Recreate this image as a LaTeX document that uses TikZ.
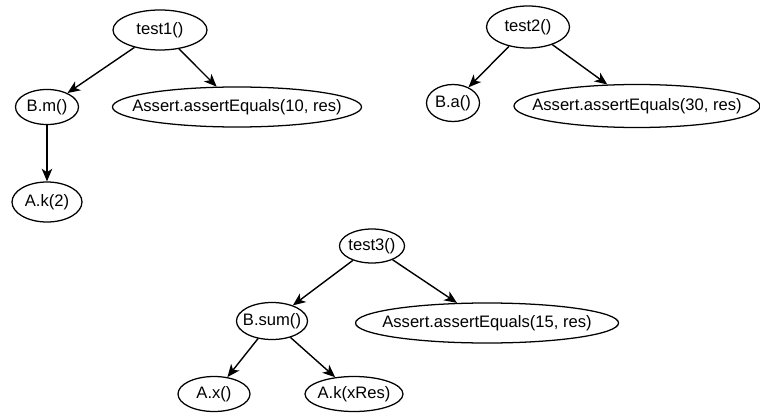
\documentclass[tikz,border=0pt]{standalone}
\usepackage{fontspec}
\setmainfont{Liberation Sans}
\usepackage{tikz}
\usetikzlibrary{arrows.meta,shapes.geometric}
\tikzset{
  call/.style={draw, ellipse, line width=0.9pt, inner xsep=-0.5cm, inner ysep=0pt,
    font=\fontsize{11.8}{14}\selectfont},
  link/.style={-{Stealth[length=9pt,width=7.5pt,inset=2.5pt]}, line width=1pt}
}

\begin{document}
\begin{tikzpicture}
      \useasboundingbox (0, 0) rectangle (19, 10.3);

      % test1
      \node[call, minimum width=2.35cm, minimum height=1cm] (test1) at (4, 9.55) {test1()};
      \node[call, minimum width=1.575cm, minimum height=0.875cm] (bm) at (1.175, 7.625) {B.m()};
      \node[call, minimum width=6.225cm, minimum height=1cm] (assert1) at (5.925, 7.625) {Assert.assertEquals(10, res)};
      \node[call, minimum width=1.75cm, minimum height=1cm] (ak2) at (1.175, 5.25) {A.k(2)};

      \draw[link] (test1) -- (bm);
      \draw[link] (test1) -- (assert1);
      \draw[link] (bm) -- (ak2);

      % test2
      \node[call, minimum width=2.075cm, minimum height=1.05cm] (test2) at (13.2, 9.625) {test2()};
      \node[call, minimum width=1.325cm, minimum height=0.925cm] (ba) at (11.325, 7.725) {B.a()};
      \node[call, minimum width=6.15cm, minimum height=1.075cm] (assert2) at (15.925, 7.65) {Assert.assertEquals(30, res)};

      \draw[link] (test2) -- (ba);
      \draw[link] (test2) -- (assert2);

      % test3
      \node[call, minimum width=1.625cm, minimum height=0.85cm] (test3) at (9.3, 4.15) {test3()};
      \node[call, minimum width=1.775cm, minimum height=0.925cm] (bsum) at (6.8, 2.275) {B.sum()};
      \node[call, minimum width=6.575cm, minimum height=1cm] (assert3) at (12.175, 2.225) {Assert.assertEquals(15, res)};
      \node[call, minimum width=1.8cm, minimum height=0.875cm] (ax) at (5.35, 0.45) {A.x()};
      \node[call, minimum width=2.45cm, minimum height=0.875cm] (akx) at (8.85, 0.45) {A.k(xRes)};

      \draw[link] (test3) -- (bsum);
      \draw[link] (test3) -- (assert3);
      \draw[link] (bsum) -- (ax);
      \draw[link] (bsum) -- (akx);
\end{tikzpicture}
\end{document}
